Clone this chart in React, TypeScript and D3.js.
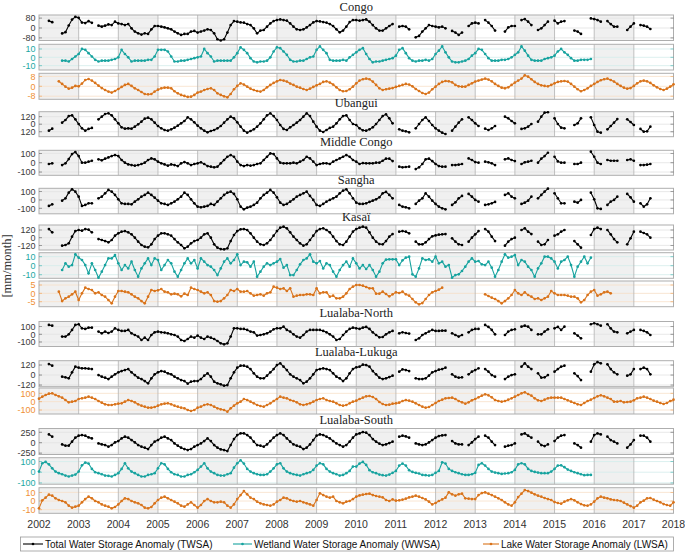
import React from "react";
import * as d3 from "d3";

const _ = null;

// ---------- time axis ----------
const startYear = 2002;
const endYear = 2018;
const yearLabels = d3.range(2002, 2019).map(String);

// ---------- TWSA (monthly from Jan 2002 to Jun 2017, null = missing) ----------
const congoTWSA = [
  _, _, _, 58, 47, _, _, -44, -34, 20, 68, 90,
  82, 44, 40, 55, 42, _, 19, 11, 19, 29, 24, 51,
  37, 32, 24, 32, -3, -29, -43, -53, -43, -48, -11, 16,
  16, 11, 5, -3, -11, -29, -43, -56, -48, -48, -29, -24,
  -37, -29, -21, -11, -16, -43, -91, -101, -91, -37, 24, 56,
  51, 45, 43, 32, 24, -3, -43, -21, -16, 11, 37, 56,
  64, 69, 64, 59, 37, 11, -11, -16, -11, 5, 24, 45,
  56, 53, 48, 43, 32, 16, -11, -35, -21, 11, 48, 64,
  64, 59, 64, 69, 51, 24, -3, -21, -21, -3, 16, 32,
  _, 11, 16, 11, -11, _, -75, -64, -29, -3, 24, 16,
  11, 5, 11, -3, _, -24, -37, -56, -37, _, 16, 37,
  43, 37, _, 64, 43, 16, -21, _, _, -29, 5, 16,
  16, _, 64, 72, 51, 24, _, -16, -3, 24, 51, _,
  59, 37, 51, 56, _, _, -21, -29, -48, _, _, 77,
  72, 64, 51, _, 56, 32, 11, 11, _, _, -16, 11,
  37, _, 24, 19, 11, -8,
];

const ubanguiTWSA = [
  _, _, _, -103, -71, _, _, 24, 67, 130, 141, 77,
  3, -66, -103, -76, -60, _, 77, 120, 162, 173, 141, 77,
  14, -50, -71, -66, -71, -39, -2, 40, 88, 104, 77, 24,
  -29, -66, -92, -103, -82, -55, -23, 14, 51, 109, 77, 30,
  -23, -66, -103, -129, -108, -92, -66, -29, 24, 77, 120, 93,
  30, -39, -103, -135, -108, -82, -39, 14, 77, 141, 173, 130,
  67, -13, -76, -92, -50, -13, 24, 67, 120, 173, 130, 40,
  -39, -103, -124, -92, -60, -39, 14, 77, 130, 141, 67, 3,
  -13, -66, -97, -103, -82, -50, 3, 67, 130, 157, 93, 14,
  _, -82, -103, -113, -129, _, -66, 3, 67, 109, 51, -13,
  -66, -103, -135, -156, _, -103, -39, 24, 77, _, 109, 67,
  14, -29, _, -71, -92, -66, -29, _, _, 120, 93, 51,
  14, _, -76, -66, -39, 3, _, 40, 120, 183, 190, _,
  93, 3, -55, -66, _, _, -13, 14, 93, _, _, 109,
  -13, -119, -135, _, -82, -29, 24, 82, _, _, 77, 35,
  -13, _, -76, -119, -113, -39,
];

const middleCongoTWSA = [
  _, _, _, -14, -7, _, _, -25, -7, 39, 93, 114,
  71, 0, 0, 11, 21, _, 36, 25, 43, 57, 71, 82,
  71, 29, 0, -18, -25, -32, -25, -14, 0, 29, 46, 36,
  11, -7, -18, -32, -18, -25, -36, -7, 7, -7, -25, -14,
  -7, 4, -14, -36, -43, -50, -43, -7, 29, 64, 82, 64,
  11, -25, -36, -25, -32, -25, -14, -7, 29, 64, 100, 93,
  46, 0, -7, -7, -7, 0, -7, 11, 29, 64, 46, 11,
  -25, -14, -7, -7, -14, 11, 29, 46, 64, 82, 64, 29,
  11, -14, -4, -7, -7, -7, 0, 0, 21, 43, 43, 18,
  _, -43, -50, -46, -43, _, -68, -50, -14, 36, 43, 18,
  -14, -36, -43, -43, _, -25, -25, -21, -14, _, 46, 29,
  7, 0, _, 11, 4, -7, -25, _, _, 36, 46, 29,
  18, _, -14, 4, 11, 21, _, 0, 43, 71, 107, _,
  64, 14, 0, 0, _, _, -14, -14, 0, _, _, 118,
  64, 0, -14, _, 29, 21, 21, 21, _, _, 29, 36,
  21, _, -25, -25, -21, -14,
];

const sanghaTWSA = [
  _, _, _, -72, -52, _, _, -8, 20, 88, 128, 100,
  40, -72, -60, -40, -40, _, 20, 40, 80, 120, 100, 60,
  8, -40, -48, -48, -52, -20, 8, 40, 60, 88, 60, 28,
  -8, -40, -48, -60, -40, -20, 8, 40, 88, 60, 8, -40,
  -80, -88, -80, -72, -48, -60, -20, 20, 60, 88, 100, 72,
  8, -80, -112, -92, -80, -60, -32, 20, 60, 88, 120, 88,
  32, -32, -60, -48, -20, 8, 40, 60, 80, 100, 48, 0,
  -60, -72, -48, -20, 0, 20, 40, 80, 112, 128, 80, 20,
  -32, -48, -48, -40, -24, -8, 8, 32, 80, 96, 60, 20,
  _, -60, -80, -88, -100, _, -48, -8, 20, 80, 40, -8,
  -48, -80, -100, -112, _, -60, -28, 20, 48, _, 72, 40,
  0, -20, _, -60, -52, -40, -24, _, _, 60, 80, 40,
  20, _, -48, -32, -8, 40, _, 20, 60, 100, 136, _,
  80, 20, -40, -40, _, _, -20, -32, 0, _, _, 88,
  8, -100, -108, _, -60, -20, 0, 40, _, _, 72, 32,
  -20, _, -40, -80, -52, 20,
];

const kasaiTWSA = [
  _, _, _, 135, 83, _, _, -125, -114, -88, 16, 104,
  120, 109, 135, 125, 83, _, -21, -36, -52, -73, -36, 31,
  68, 94, 104, 83, 52, 0, -62, -114, -140, -151, -104, -21,
  31, 68, 68, 52, 31, -21, -73, -114, -166, -140, -88, -52,
  -36, 0, 52, 68, 0, -104, -156, -177, -182, -166, -52, 42,
  104, 130, 135, 120, 68, 0, -62, -104, -114, -88, -36, 31,
  104, 156, 172, 146, 83, 16, -36, -88, -125, -104, -36, 31,
  104, 135, 146, 120, 83, 16, -52, -104, -114, -62, 16, 94,
  135, 156, 172, 156, 83, 0, -62, -99, -104, -52, 16, 57,
  _, 94, 104, 94, 68, _, -62, -104, -104, -73, -21, 21,
  36, 47, 52, 57, _, -10, -62, -104, -114, _, -62, 0,
  52, 104, _, 135, 94, 16, -52, _, _, -125, -62, -21,
  0, _, 120, 146, 94, 57, _, -62, -114, -104, -36, _,
  31, 52, 94, 120, _, _, -52, -104, -156, _, _, 42,
  135, 156, 135, _, 120, 52, -21, -73, _, _, -104, -10,
  94, _, 94, 73, 52, 0,
];

const lualabaNorthTWSA = [
  _, _, _, 122, 113, _, _, -30, -30, 0, 57, 122,
  131, 78, 70, 87, 87, _, 35, 13, 35, 17, 35, 78,
  57, 44, 44, 57, 13, -9, -30, -74, -44, -74, -9, 26,
  35, 26, 22, 13, 0, -9, -30, -74, -87, -61, -30, -44,
  -17, -44, -61, -30, -44, -61, -87, -117, -131, -117, -30, 78,
  78, 70, 70, 57, 35, 26, -17, -9, 0, 13, 35, 65,
  78, 78, 100, 57, 35, 0, -30, -44, -9, 35, 57, 57,
  57, 57, 44, 26, 0, -30, -74, -61, -9, 35, 70, 87,
  78, 70, 87, 96, 70, 26, -9, -39, -35, 0, 26, 44,
  _, 13, 26, 17, 9, _, -74, -52, -9, 13, 35, 57,
  44, 44, 48, 48, _, 13, -9, -30, -9, _, 26, 57,
  70, 70, _, 122, 96, 57, 0, _, _, -9, 35, 57,
  65, _, 100, 113, 100, 57, _, 0, 0, 35, 65, _,
  78, 96, 57, 100, _, _, 13, -17, -52, _, _, 131,
  144, 131, 113, _, 131, 78, 35, 26, _, _, 13, 35,
  57, _, 57, 44, 26, -9,
];

const lukugaTWSA = [
  _, _, _, 132, 112, _, _, -20, -28, -40, 32, 100,
  88, 80, 80, 76, 72, _, 0, -20, -32, -48, -20, 8,
  32, 48, 60, 72, 32, 0, -32, -48, -72, -100, -40, 8,
  32, 48, 40, 20, 8, -20, -40, -60, -72, -104, -80, -72,
  -72, -48, -8, 20, -20, -80, -100, -112, -128, -120, -40, 32,
  88, 112, 112, 100, 72, 20, -20, -40, -40, -8, 32, 72,
  120, 140, 100, 60, 8, -20, -40, -60, -100, -80, -40, 8,
  60, 72, 80, 72, 60, 20, -20, -40, -72, -40, 20, 72,
  92, 100, 124, 120, 100, 48, 8, -32, -48, -40, -24, -8,
  _, 40, 68, 60, 48, _, -40, -48, -48, -40, -8, 32,
  48, 64, 72, 88, _, 8, -20, -32, -28, _, 8, 40,
  60, 80, _, 72, 40, 0, -20, _, _, -48, -20, 0,
  8, _, 100, 140, 100, 72, _, 20, -32, -28, 0, _,
  40, 72, 100, 112, _, _, 20, -12, -60, _, _, 40,
  128, 155, 140, _, 128, 72, 32, 8, _, _, -8, 8,
  72, _, 72, 88, 72, 8,
];

const lualabaSouthTWSA = [
  _, _, _, 200, 144, _, _, -40, -72, -72, 24, 120,
  168, 184, 168, 128, 104, _, -16, -40, -56, -96, -56, 8,
  40, 104, 144, 120, 64, 8, -56, -96, -120, -152, -56, 24,
  64, 120, 144, 104, 64, -16, -72, -120, -152, -176, -152, -96,
  -56, -16, 40, 104, 40, -56, -120, -160, -176, -200, -56, 88,
  184, 224, 224, 184, 120, 24, -56, -72, -96, -40, 40, 120,
  184, 224, 184, 104, 24, -40, -72, -96, -152, -120, -40, 64,
  168, 200, 184, 144, 104, 40, -16, -56, -96, -56, 24, 120,
  200, 224, 256, 240, 184, 88, 24, -24, -56, -40, -8, 24,
  _, 144, 168, 152, 120, _, -16, -40, -56, -40, 8, 64,
  120, 160, 176, 184, _, 40, -16, -40, -40, _, -56, 8,
  88, 144, _, 168, 120, 24, -56, _, _, -96, -72, -56,
  -16, _, 200, 224, 168, 120, _, 24, -56, -80, -40, _,
  40, 120, 168, 184, _, _, -16, -56, -120, _, _, 24,
  184, 224, 200, _, 144, 64, 24, -16, _, _, -120, -40,
  64, _, 168, 168, 120, 24,
];

// ---------- WWSA (monthly from Jan 2002 to Dec 2015) ----------
const congoWWSA = [
  _, _, _, _, _, _, _, -4, -4, -5, -2, 1,
  4, 10, 9, 5, 1, -3, -5, -4, -4, -4, -3, -2,
  0, 9, 4, 0, -5, -4, -4, -4, -4, -3, -3, 1,
  9, 9, 9, 7, 1, -5, -5, -4, -4, -3, -2, -1,
  0, 1, 10, 5, 1, -5, -4, -4, -4, -4, -4, 0,
  5, 12, 9, 5, -1, -5, -6, -5, -5, -4, 0, 7,
  12, 11, 7, 3, -3, -5, -5, -4, -4, -2, 0, 1,
  9, 13, 9, 5, -3, -4, -4, -4, -3, -4, 0, 3,
  6, 9, 11, 4, -2, -6, -5, -5, -4, -3, -2, -1,
  2, 9, 11, 5, -1, -4, -5, -4, -4, -3, -4, -2,
  4, 8, 13, 6, 0, -5, -6, -6, -5, -4, -2, 2,
  5, 10, 9, 4, -1, -4, -4, -4, -3, -3, -2, 0,
  3, 6, 13, 8, 2, -3, -4, -4, -4, -2, -1, 0,
  2, 7, 10, 6, 3, -1, -4, -4, -3, -3, -3, -2,
];

const kasaiWWSA = [
  _, _, _, _, _, _, _, -4.8, 2.6, -1.1, 0.7, 12.6,
  8.9, 6.3, 0.7, -8.5, 2.6, -4.8, -13.3, -6.7, 0.7, 8.1, 8.1, 11.8,
  2.6, -4.8, 0.7, -3.0, 4.4, -4.8, -12.2, -3.0, 2.6, 8.1, 0.7, 8.1,
  6.3, -4.8, 0.7, 6.3, 2.6, -6.7, -12.2, -4.8, 2.6, 8.1, 2.6, 6.3,
  -3.0, 8.1, 4.4, 0.7, -1.1, -4.8, -10.4, -3.0, 4.4, 8.1, 2.6, 6.3,
  12.6, 0.7, 4.4, 3.7, -1.1, 4.4, -12.2, -6.7, -1.1, 2.6, 0.7, 2.6,
  4.4, 7.4, -2.2, 0.7, -10.4, -10.4, -4.8, 1.5, 6.3, 8.1, 12.6, 4.4,
  2.6, 5.2, -3.0, 2.6, 0.7, -6.7, -12.2, -4.8, 0.7, 4.4, -1.1, 8.1,
  2.6, -3.0, 0.7, -3.7, 0.7, -4.8, -12.2, -6.7, 2.6, 6.7, 7.0, 7.0,
  7.0, 0.7, 5.9, 8.9, 10.0, -9.6, -12.2, -3.0, 8.1, 6.3, 7.0, 4.4,
  10.0, 2.6, 4.4, -1.1, 0.7, -13.3, -10.4, -9.6, -5.9, -1.1, 4.4, 8.1,
  4.4, 5.2, 1.5, 0.7, 4.4, -2.2, -12.2, -4.8, 4.4, 12.6, 8.9, 10.0,
  11.8, 0.7, 6.3, 4.4, -1.1, -4.8, -12.2, -3.0, 2.6, 10.0, 10.0, 8.1,
  4.4, -3.0, 4.4, 6.3, 10.0, 0.7, -12.2, -1.1, 4.4, 10.0, 2.6, 8.9,
];

const lualabaSouthWWSA = [
  6, 84, 96, 74, 37, 6, -9, -19, -31, -40, -31, -22,
  6, 65, 90, 81, 31, 0, -9, -19, -31, -34, -40, -25,
  -9, 31, 84, 37, 6, -9, -25, -40, -40, -25, -19, -9,
  37, 84, 74, 31, 0, -19, -25, -40, -40, -25, -19, 0,
  22, 53, 84, 37, 6, -9, -25, -31, -31, -19, -9, 43,
  84, 112, 81, 31, 6, -9, -19, -25, -25, -19, 6, 37,
  74, 84, 37, 6, -9, -19, -25, -31, -19, -9, 0, 22,
  62, 84, 74, 31, 6, -9, -19, -31, -25, -9, 12, 53,
  53, 81, 96, 68, 19, 0, -9, -22, -28, -31, -22, -6,
  12, 62, 81, 62, 19, 3, -6, -12, -25, -28, -31, -25,
  -6, 12, 93, 81, 31, 12, 0, -9, -19, -25, -25, -19,
  -6, 68, 84, 62, 31, 6, -3, -9, -16, -12, -9, 0,
  22, 74, 84, 74, 31, 12, 3, -3, -9, -9, -9, 6,
  31, 62, 65, 47, 25, 12, 0, -9, -19, -28, -25, -25,
];

// ---------- LWSA (monthly from Jan 2002 to Jan 2018) ----------
const congoLWSA = [
  _, _, _, _, _, _, 4.0, 1.9, -0.3, -1.9, -1.1, 0.3,
  0, 2.2, 5.1, 5.9, 4.6, 2.7, 0.5, -1.4, -3.0, -4.3, -5.1, -3.8,
  -2.2, -0.5, 1.1, 1.9, 0.3, -1.6, -3.0, -4.6, -6.2, -6.5, -6.2, -4.3,
  -2.7, -1.6, -1.1, -1.1, -1.6, -4.0, -5.7, -7.0, -7.8, -8.6, -8.4, -7.0,
  -5.1, -4.3, -3.0, -2.2, -1.6, -3.0, -5.7, -7.0, -8.1, -8.9, -6.2, -2.4,
  0.3, 2.4, 1.4, -0.3, -1.9, -3.0, -3.8, -4.3, -3.0, -0.8, 1.1, 2.7,
  4.0, 5.1, 4.6, 3.8, 2.2, 1.1, -0.3, -1.1, -2.2, -3.0, -1.9, -0.5,
  0.8, 1.9, 3.5, 4.0, 3.0, 1.4, -0.8, -3.0, -4.0, -3.8, -2.4, -0.3,
  2.4, 4.6, 5.7, 6.2, 5.7, 3.8, 1.1, -1.6, -3.0, -2.4, -1.9, -1.4,
  -0.5, 0.3, 1.1, 1.9, 1.4, 0, -2.2, -3.8, -5.4, -6.2, -5.1, -2.4,
  -0.3, 1.9, 3.5, 4.3, 4.0, 3.2, 1.1, 0, -0.3, -0.3, 1.1, 2.4,
  3.8, 4.6, 5.4, 6.2, 5.4, 4.0, 1.9, 0.3, -1.1, -1.6, -0.8, 1.1,
  3.0, 4.6, 6.2, 8.9, 7.8, 5.7, 3.5, 1.9, 0.8, 0.3, 0, 1.1,
  2.4, 3.5, 4.0, 4.3, 3.8, 1.9, -0.3, -2.4, -4.0, -3.0, -1.6, 0.3,
  1.9, 3.5, 4.9, 5.7, 6.2, 5.1, 3.8, 1.9, 0.3, -1.1, -1.9, -1.4,
  0.3, 2.4, 4.0, 4.6, 4.0, 2.7, 0.8, -0.8, -2.2, -3.0, -1.9, -0.3,
  1.6,
];

const kasaiLWSA = [
  _, _, _, _, _, _, 1.0, -4.6, -3.0, -2.0, -0.6, 1.0,
  -4.0, 0, 3.4, 2.6, 2.0, 0, 0.6, -1.0, -2.0, -4.0, -6.0, -2.0,
  1.4, 1.4, 1.0, 0.6, -0.6, -2.0, -3.0, -4.6, -6.0, -2.0, 2.0, 1.4,
  1.8, 2.6, 1.0, 0.6, -0.6, -0.2, -0.6, -1.8, -0.2, -1.0, 3.4, 2.6,
  2.0, 1.0, 0, 0.6, -1.0, -4.6, -5.0, -4.6, -3.0, -1.0, 2.0, 1.4,
  2.6, 1.0, 1.0, 1.4, 0, -1.4, -1.0, -0.6, -1.4, 0, 0.6, 4.0,
  3.4, 2.6, 3.0, 1.4, 3.0, -2.0, -1.4, -1.0, -1.0, -0.6, -0.6, -1.0,
  3.0, 0, 0.6, 0.6, -2.0, -1.4, -3.0, -3.0, -2.0, 0, 2.6, 4.0,
  5.0, 5.0, 4.6, 3.8, 3.0, 3.0, -0.2, -0.2, 1.0, -0.4, -1.8, -0.6,
  0.6, 0.2, 1.0, -0.6, -1.4, -3.4, -5.4, -6.6, -5.8, -3.4, -1.0, 0.6,
  1.4, 2.2, 3.4, _, _, _, _, _, _, _, _, _,
  _, _, _, -0.6, -1.6, -2.6, -3.4, -4.6, -6.0, -4.6, -3.0, -1.0,
  2.0, 0, -1.0, 0.6, -1.0, -2.0, -3.4, -3.0, -4.0, -3.0, -2.0, 1.4,
  0, -1.0, -1.0, -1.0, -1.4, -2.0, -2.0, -3.0, -5.4, -4.0, -1.0, 1.0,
  2.0, -1.4, -0.6, 0.6, 1.0, 0,
];

const lukugaLWSA = [
  36, 60, 80, 96, 100, 80, 64, 48, 20, -8, 0, 8,
  32, 40, 48, 60, 48, 32, 8, -12, -32, -40, -40, -32,
  -24, -20, 0, 20, 8, -8, -32, -48, -60, -72, -72, -64,
  -48, -32, -24, -20, -32, -48, -60, -72, -80, -100, -112, -100,
  -72, -60, -40, -32, -40, -60, -80, -92, -100, -120, -80, -48,
  -20, 0, 32, 20, 0, -20, -40, -52, -60, -40, -20, 8,
  32, 60, 48, 40, 20, 8, -8, -32, -40, -32, -20, 0,
  20, 32, 40, 20, 8, 0, -20, -40, -48, -40, -20, 0,
  12, 32, 48, 64, 68, 56, 32, -4, -28, -40, -36, -24,
  -20, -12, 8, 20, 12, 0, -20, -40, -60, -72, -64, -40,
  -16, 8, 24, 40, 44, 48, 32, 8, -8, -24, -8, 16,
  32, 52, 72, 88, 76, 52, 20, 8, 0, 8, 24, 40,
  60, 80, 100, 112, 92, 72, 40, 16, 8, 24, 40, 48,
  48, 48, 48, 32, 16, 0, -16, -32, -40, -16, 8, 24,
  44, 64, 76, 64, 48, 32, 0, 0, 8, -8, -4, 0,
  16, 40, 48, 60, 48, 32, 12, 0, -16, -28, -16, 8,
  24,
];

const lualabaSouthLWSA = [
  -8.5, 0.8, 3.9, 7.3, 6.2, 3.1, 1.2, 0, -1.5, -5.4, -7.7, -6.5,
  -5.4, -1.5, 2.3, 5.0, 3.1, 0, -1.5, -3.9, -5.4, -6.5, -8.5, -6.9,
  -3.9, 0, 3.1, 2.3, 0, -1.5, -2.7, -4.6, -7.7, -8.5, -6.9, -2.7,
  1.2, 3.9, 5.0, 3.1, 1.2, -0.8, -2.7, -5.4, -6.5, -3.9, -1.5, -4.6,
  -7.7, -4.6, 0, 2.3, 0, -1.5, -1.5, -0.8, -1.5, -5.4, -7.7, -3.9,
  2.3, 6.9, 11.5, 7.7, 3.9, 2.3, -0.8, -2.7, -3.9, -4.6, -5.4, -3.9,
  -0.8, 1.2, 3.9, 3.1, 1.2, 0, -0.8, 0, -1.5, -2.7, -3.9, -5.4,
  1.2, 8.9, 6.9, 5.0, 3.9, 5.0, 0, -1.5, -2.7, -0.8, 0, 2.3,
  5.0, 6.5, 7.3, 8.1, 8.5, 6.9, 5.8, 5.0, 4.2, 1.2, 0, 1.9,
  0.4, 0.8, 1.5, 2.7, 4.2, 5.0, 6.2, 5.0, 3.5, 1.9, -0.8, -3.9,
  -2.3, 0, 1.9, 3.9, 10.0, 7.7, 6.2, 7.7, 8.5, 3.1, 2.7, 2.3,
  2.3, 6.9, 9.2, 10.0, 8.5, 6.9, 5.0, 3.1, 1.2, -1.5, -3.9, -5.4,
  -1.5, 4.6, 8.5, 12.7, 11.5, 9.6, 7.7, 6.2, 5.0, 3.5, 2.3, 1.2,
  -1.2, -2.3, -3.1, -0.8, 0.8, 2.3, 0.8, -1.5, -3.5, -5.0, -5.4, -3.9,
  -0.8, 3.1, 5.0, 3.9, 3.1, 1.9, 1.2, 0.8, 0, -1.9, -3.9, -5.8,
  -7.7, -5.4, -1.5, 0.4, 3.1, 3.5, 1.5, 0, -1.5, -3.5, -4.6, -5.4,
  -1.5,
];

// ---------- legend ----------
const legendLabels = [
  "Total Water Storage Anomaly (TWSA)",
  "Wetland Water Storage Anomaly (WWSA)",
  "Lake Water Storage Anomaly (LWSA)",
];

// ---------- styling / layout ----------
type Kind = "TWSA" | "WWSA" | "LWSA";
const LINE: Record<Kind, string> = { TWSA: "#000000", WWSA: "#17a39f", LWSA: "#d9731a" };
const LABEL: Record<Kind, string> = { TWSA: "#3a3a3a", WWSA: "#1ba8a4", LWSA: "#ef9035" };
const GRID: Record<Kind, string> = { TWSA: "#e2e2e2", WWSA: "#d3eceb", LWSA: "#f8e0c8" };

type Row = {
  kind: Kind;
  data: (number | null)[];
  top: number;
  h: number;
  dom: [number, number];
  ticks: number[];
  tickText?: string[];
};
type Panel = { title: string; rows: Row[] };

const panels: Panel[] = [
  {
    title: "Congo",
    rows: [
      { kind: "TWSA", data: congoTWSA, top: 15, h: 25.5, dom: [-101, 105], ticks: [80, 0, -80] },
      { kind: "WWSA", data: congoWWSA, top: 44.3, h: 25.7, dom: [-15.2, 15.6], ticks: [10, 0, -10] },
      { kind: "LWSA", data: congoLWSA, top: 73.3, h: 26, dom: [-10.5, 10.5], ticks: [8, 0, -8] },
    ],
  },
  {
    title: "Ubangui",
    rows: [
      { kind: "TWSA", data: ubanguiTWSA, top: 111.7, h: 25, dom: [-199, 199], ticks: [120, 0, -120], tickText: ["120", "0", "120"] },
    ],
  },
  {
    title: "Middle Congo",
    rows: [{ kind: "TWSA", data: middleCongoTWSA, top: 150.3, h: 25, dom: [-135, 133], ticks: [100, 0, -100] }],
  },
  {
    title: "Sangha",
    rows: [{ kind: "TWSA", data: sanghaTWSA, top: 188.3, h: 25.5, dom: [-166, 140], ticks: [100, 0, -100] }],
  },
  {
    title: "Kasaï",
    rows: [
      { kind: "TWSA", data: kasaiTWSA, top: 225, h: 25, dom: [-192, 198], ticks: [120, 0, -120] },
      { kind: "WWSA", data: kasaiWWSA, top: 252.7, h: 25.6, dom: [-14, 14.4], ticks: [10, 0, -10] },
      { kind: "LWSA", data: kasaiLWSA, top: 281, h: 25.7, dom: [-8, 7.4], ticks: [5, 0, -5] },
    ],
  },
  {
    title: "Lualaba-North",
    rows: [{ kind: "TWSA", data: lualabaNorthTWSA, top: 321.5, h: 25, dom: [-159, 167], ticks: [100, 0, -100] }],
  },
  {
    title: "Lualaba-Lukuga",
    rows: [
      { kind: "TWSA", data: lukugaTWSA, top: 360.7, h: 26, dom: [-140, 172], ticks: [120, 0, -120] },
      { kind: "LWSA", data: lukugaLWSA, top: 388, h: 26, dom: [-148, 164], ticks: [100, 0, -100] },
    ],
  },
  {
    title: "Lualaba-South",
    rows: [
      { kind: "TWSA", data: lualabaSouthTWSA, top: 428.5, h: 26, dom: [-283, 341], ticks: [250, 0, -250] },
      { kind: "WWSA", data: lualabaSouthWWSA, top: 457.7, h: 26.5, dom: [-112, 136], ticks: [100, 0, -100] },
      { kind: "LWSA", data: lualabaSouthLWSA, top: 487.7, h: 25.6, dom: [-14.2, 15.4], ticks: [10, 0, -10] },
    ],
  },
];

const W = 685;
const H = 553;
const X0 = 39;
const X1 = 673.5;
const SANS = "'Liberation Sans', Arial, Helvetica, sans-serif";
const SERIF = "'Liberation Serif', 'Times New Roman', serif";

const x = d3.scaleLinear().domain([startYear, endYear]).range([X0, X1]);
const monthTime = (k: number) => startYear + k / 12;

function RowPlot({ row }: { row: Row }) {
  const y = d3.scaleLinear().domain(row.dom).range([row.top + row.h, row.top]);
  const pts: [number, number | null][] = row.data.map((v, k) => [k, v]);
  const line = d3
    .line<[number, number | null]>()
    .defined((d) => d[1] != null)
    .x((d) => x(monthTime(d[0])))
    .y((d) => y(d[1] as number));
  const bandYears = d3.range(startYear, endYear, 2);
  const gridYears = d3.range(startYear + 1, endYear);
  const col = LINE[row.kind];
  return (
    <g>
      <rect x={X0} y={row.top} width={X1 - X0} height={row.h} fill="#ffffff" />
      {bandYears.map((yr) => (
        <rect key={yr} x={x(yr)} y={row.top} width={x(yr + 1) - x(yr)} height={row.h} fill="#f0f0f0" />
      ))}
      {row.ticks.map((t) => (
        <line key={"g" + t} x1={X0} x2={X1} y1={y(t)} y2={y(t)} stroke={GRID[row.kind]} strokeWidth={0.8} />
      ))}
      {gridYears.map((yr) => (
        <line key={"v" + yr} x1={x(yr)} x2={x(yr)} y1={row.top} y2={row.top + row.h} stroke="#b2b2b2" strokeWidth={0.8} />
      ))}
      <rect x={X0} y={row.top} width={X1 - X0} height={row.h} fill="none" stroke="#aeaeae" strokeWidth={1} />
      {row.ticks.map((t, i) => (
        <g key={"t" + t}>
          <line x1={X0} x2={X0 + 3} y1={y(t)} y2={y(t)} stroke={LABEL[row.kind]} strokeWidth={0.7} opacity={0.7} />
          <line x1={X1 - 3} x2={X1} y1={y(t)} y2={y(t)} stroke={LABEL[row.kind]} strokeWidth={0.7} opacity={0.7} />
          <text
            x={35.5}
            y={y(t)}
            dy="0.36em"
            textAnchor="end"
            fontFamily={SANS}
            fontSize={9}
            fill={LABEL[row.kind]}
          >
            {row.tickText ? row.tickText[i] : String(t)}
          </text>
        </g>
      ))}
      <path d={line(pts) || ""} fill="none" stroke={col} strokeWidth={1.1} />
      {pts.map((d) =>
        d[1] == null ? null : (
          <circle key={d[0]} cx={x(monthTime(d[0]))} cy={y(d[1])} r={1.35} fill={col} />
        )
      )}
    </g>
  );
}

export default function App() {
  const legendItems: { kind: Kind; x1: number; x2: number; tx: number }[] = [
    { kind: "TWSA", x1: 23, x2: 43, tx: 45 },
    { kind: "WWSA", x1: 233, x2: 252, tx: 254 },
    { kind: "LWSA", x1: 483, x2: 499, tx: 501 },
  ];
  return (
    <svg
      width={W}
      height={H}
      viewBox={`0 0 ${W} ${H}`}
      style={{ position: "absolute", left: 0, top: 0, background: "#ffffff" }}
    >
      <rect x={0} y={0} width={W} height={H} fill="#ffffff" />
      {panels.map((p) => (
        <g key={p.title}>
          <text
            x={(X0 + X1) / 2}
            y={p.rows[0].top - 4.5}
            textAnchor="middle"
            fontFamily={SERIF}
            fontSize={12.5}
            fill="#222"
          >
            {p.title}
          </text>
          {p.rows.map((r, i) => (
            <RowPlot key={i} row={r} />
          ))}
        </g>
      ))}
      {yearLabels.map((lab) => (
        <text
          key={lab}
          x={x(+lab)}
          y={528}
          textAnchor="middle"
          fontFamily={SANS}
          fontSize={10.5}
          fill="#333"
        >
          {lab}
        </text>
      ))}
      <text
        transform="translate(11,266) rotate(-90)"
        textAnchor="middle"
        fontFamily={SERIF}
        fontSize={12.5}
        fill="#333"
      >
        [mm/month]
      </text>
      <rect x={20.5} y={537} width={653} height={14} fill="#ffffff" stroke="#9a9a9a" strokeWidth={0.8} />
      {legendItems.map((it, i) => (
        <g key={it.kind}>
          <line x1={it.x1} x2={it.x2} y1={544} y2={544} stroke={LINE[it.kind]} strokeWidth={1.1} />
          <circle cx={(it.x1 + it.x2) / 2} cy={544} r={1.35} fill={LINE[it.kind]} />
          <text x={it.tx} y={544} dy="0.36em" fontFamily={SANS} fontSize={10} fill="#111">
            {legendLabels[i]}
          </text>
        </g>
      ))}
    </svg>
  );
}
